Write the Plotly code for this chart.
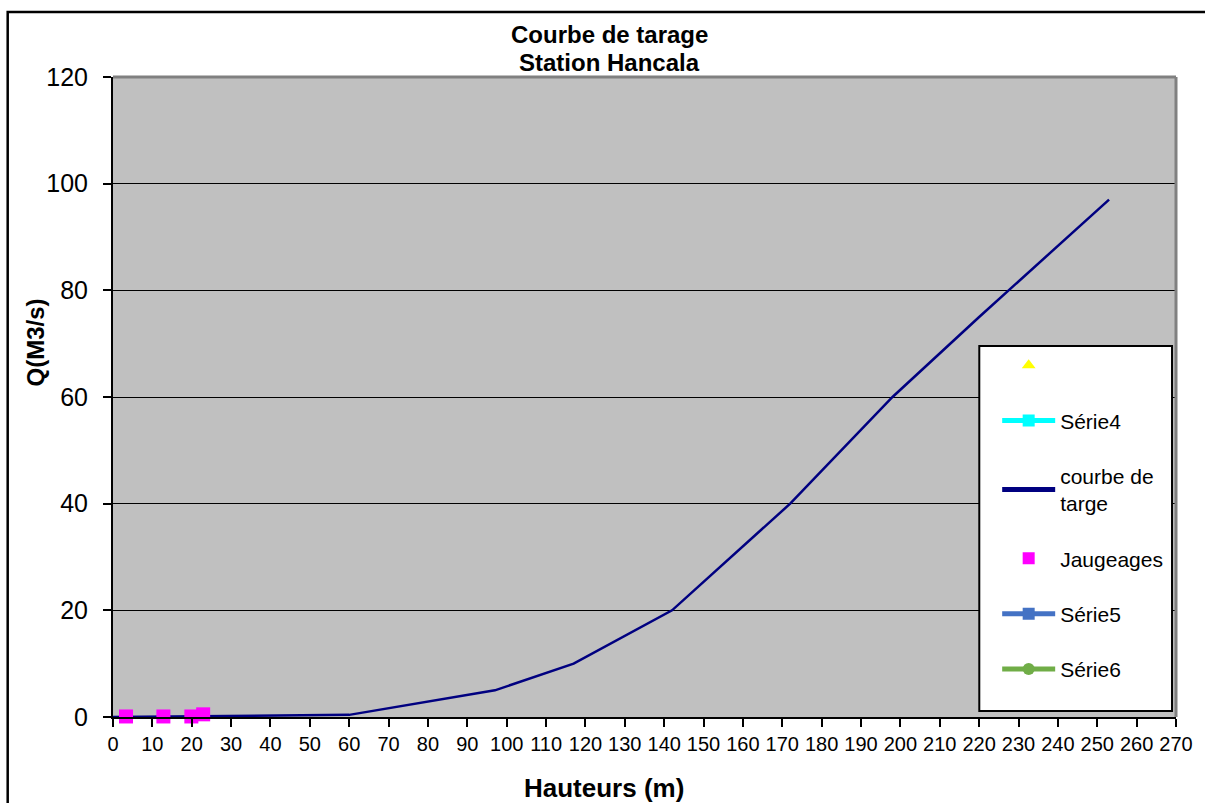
import plotly.graph_objects as go

# Rating curve for the Hancala station
courbe_h = [0, 20, 40, 60, 97, 117, 142, 172, 198, 220, 253]
courbe_q = [0, 0.1, 0.2, 0.4, 5, 10, 20, 40, 60, 75, 97]

# Gauging measurements
jaug_h = [3.3, 12.8, 19.9, 22.9]
jaug_q = [0.1, 0.1, 0.1, 0.5]

# Auxiliary series (no plotted values)
serie_vide_h, serie_vide_q = [None], [None]
serie4_h, serie4_q = [None], [None]
serie5_h, serie5_q = [None], [None]
serie6_h, serie6_q = [None], [None]

x_ticks = list(range(0, 271, 10))
y_ticks = list(range(0, 121, 20))

FONT = "Liberation Sans, Arial, sans-serif"

fig = go.Figure()

fig.add_trace(go.Scatter(
    x=serie_vide_h, y=serie_vide_q, name=" ", mode="markers",
    marker=dict(symbol="triangle-up", color="#FFFF00", size=9),
    legendgroup="a"))
fig.add_trace(go.Scatter(
    x=serie4_h, y=serie4_q, name="Série4", mode="lines+markers",
    line=dict(color="#00FFFF", width=2),
    marker=dict(symbol="square", color="#00FFFF", size=9),
    legendgroup="b"))
fig.add_trace(go.Scatter(
    x=courbe_h, y=courbe_q, name="courbe de<br>targe", mode="lines",
    line=dict(color="#000080", width=2.5),
    legendgroup="c"))
fig.add_trace(go.Scatter(
    x=jaug_h, y=jaug_q, name="Jaugeages", mode="markers",
    marker=dict(symbol="square", color="#FF00FF", size=14),
    cliponaxis=False,
    legendgroup="d"))
fig.add_trace(go.Scatter(
    x=serie5_h, y=serie5_q, name="Série5", mode="lines+markers",
    line=dict(color="#4472C4", width=3),
    marker=dict(symbol="square", color="#4472C4", size=9),
    legendgroup="e"))
fig.add_trace(go.Scatter(
    x=serie6_h, y=serie6_q, name="Série6", mode="lines+markers",
    line=dict(color="#70AD47", width=3),
    marker=dict(symbol="circle", color="#70AD47", size=9),
    legendgroup="f"))

L, R, T, B = 113, 22, 77, 86
W, H = 1205, 803
pw, ph = W - L - R, H - T - B

def px_x(p):
    return (p - L) / pw

def px_y(p):
    return (H - B - p) / ph

def label(text, x, y, size, angle=0):
    return dict(text=text, xref="paper", yref="paper",
                x=px_x(x), y=px_y(y), xanchor="center", yanchor="middle",
                showarrow=False, textangle=angle,
                font=dict(size=size, family=FONT, color="black"))

fig.update_layout(
    width=W, height=H,
    margin=dict(l=L, r=R, t=T, b=B),
    paper_bgcolor="white",
    plot_bgcolor="#C0C0C0",
    font=dict(family=FONT, color="black"),
    showlegend=True,
    legend=dict(
        x=px_x(1003), y=px_y(345), xanchor="left", yanchor="top",
        bgcolor="rgba(0,0,0,0)", borderwidth=0,
        font=dict(size=21, family=FONT),
        tracegroupgap=25, itemsizing="constant", itemwidth=53,
        traceorder="grouped",
    ),
    xaxis=dict(
        range=[0, 270], tickvals=x_ticks, ticktext=[str(v) for v in x_ticks],
        showgrid=False, zeroline=False,
        showline=True, linecolor="black", linewidth=2,
        ticks="outside", ticklen=8, tickcolor="black", tickwidth=2,
        tickfont=dict(size=20, family=FONT),
    ),
    yaxis=dict(
        range=[0, 120], tickvals=y_ticks,
        showgrid=True, gridcolor="black", gridwidth=1.3,
        zeroline=False,
        showline=True, linecolor="black", linewidth=2,
        ticks="outside", ticklen=8, tickcolor="black", tickwidth=2,
        tickfont=dict(size=25, family=FONT),
        ticklabelstandoff=10,
    ),
    shapes=[
        # grey frame on the top and right of the plot area
        dict(type="line", xref="paper", yref="paper", x0=0, x1=1, y0=1, y1=1,
             line=dict(color="#808080", width=3)),
        dict(type="line", xref="paper", yref="paper", x0=1, x1=1, y0=0, y1=1,
             line=dict(color="#808080", width=3)),
        # legend frame
        dict(type="rect", xref="paper", yref="paper",
             x0=px_x(985), x1=px_x(1179), y0=px_y(711), y1=px_y(346),
             fillcolor="white", line=dict(color="black", width=2), layer="above"),
        # outer chart border
        dict(type="rect", xref="paper", yref="paper",
             x0=px_x(7), x1=px_x(1215), y0=px_y(815), y1=px_y(12),
             line=dict(color="black", width=2.5)),
    ],
    annotations=[
        label("<b>Courbe de tarage</b>", 613, 35, 24),
        label("<b>Station Hancala</b>", 613, 62, 24),
        label("<b>Hauteurs (m)</b>", 607, 788, 26),
        label("<b>Q(M3/s)</b>", 34, 343, 24, angle=-90),
    ],
)

fig.write_html("out.html")
